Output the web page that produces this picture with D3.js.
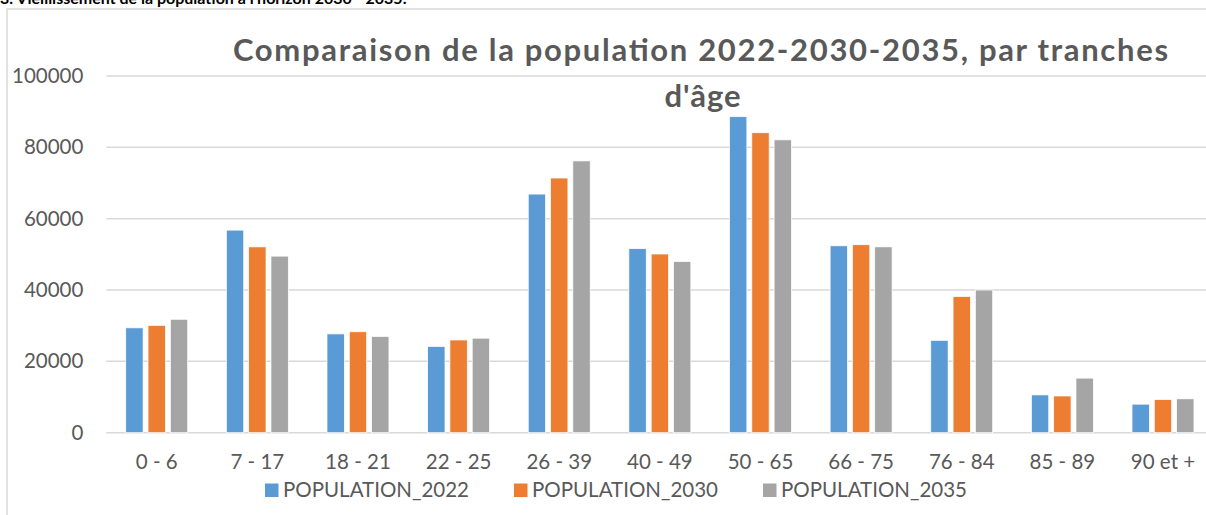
<!DOCTYPE html>
<meta charset="utf-8">
<style>
body { margin: 0; background: #fff; }
svg { display: block; }
text { font-family: Lato, "Open Sans", sans-serif; fill: #595959; }
.tick text { font-size: 20.5px; }
.grid line { stroke: #d9d9d9; stroke-width: 1.5; }
</style>
<svg width="1206" height="515"></svg>
<script src="https://d3js.org/d3.v7.min.js"></script>
<script>

var categories = ["0 - 6", "7 - 17", "18 - 21", "22 - 25", "26 - 39", "40 - 49", "50 - 65", "66 - 75", "76 - 84", "85 - 89", "90 et +"];
var pop2022 = [29400, 56800, 27700, 24200, 66900, 51600, 88600, 52400, 25900, 10600, 8000];
var pop2030 = [30100, 52100, 28300, 26000, 71400, 50100, 84100, 52700, 38200, 10300, 9300];
var pop2035 = [31800, 49500, 27000, 26500, 76200, 48000, 82100, 52100, 40000, 15300, 9500];
var seriesNames = ["POPULATION_2022", "POPULATION_2030", "POPULATION_2035"];
var yTicks = [0, 20000, 40000, 60000, 80000, 100000];

var series = [pop2022, pop2030, pop2035];
var color = d3.scaleOrdinal().domain(seriesNames).range(["#5b9bd5", "#ed7d31", "#a5a5a5"]);

var svg = d3.select("svg");

// bit of the document heading cut off above the chart frame
svg.append("text")
    .attr("x", 0)
    .attr("y", 4)
    .style("font-size", "16px")
    .style("font-weight", "bold")
    .style("fill", "#000")
    .text("3. Vieillissement de la population à l'horizon 2030 - 2035.");

// chart frame (only left and top edges visible)
svg.append("path")
    .attr("d", "M7,515V9H1206")
    .attr("fill", "none")
    .attr("stroke", "#d9d9d9")
    .attr("stroke-width", 1.5);

var x0 = d3.scaleBand()
    .domain(categories)
    .range([106.4, 1213.3])
    .paddingInner(0.384)
    .paddingOuter(0.192);

var x1 = d3.scaleBand()
    .domain(seriesNames)
    .range([0, x0.bandwidth()])
    .paddingInner(0.22);

var y = d3.scaleLinear()
    .domain([0, 100000])
    .range([432.7, 76]);

// gridlines
svg.append("g")
    .attr("class", "grid")
  .selectAll("line")
  .data(yTicks)
  .enter().append("line")
    .attr("x1", 106.4)
    .attr("x2", 1213.3)
    .attr("y1", function(d) { return y(d); })
    .attr("y2", function(d) { return y(d); });

// y axis labels
var yAxis = svg.append("g")
    .attr("transform", "translate(106.4,0)")
    .call(d3.axisLeft(y).tickValues(yTicks).tickSize(0).tickPadding(23).tickFormat(d3.format("d")));
yAxis.select(".domain").remove();

// x axis labels
var xAxis = svg.append("g")
    .attr("transform", "translate(0,432.7)")
    .call(d3.axisBottom(x0).tickSize(0).tickPadding(22));
xAxis.select(".domain").remove();

// bars
var groups = svg.append("g")
  .selectAll("g")
  .data(categories)
  .enter().append("g")
    .attr("transform", function(d) { return "translate(" + x0(d) + ",0)"; });

groups.selectAll("rect")
  .data(function(d, i) {
    return seriesNames.map(function(s, j) { return { key: s, value: series[j][i] }; });
  })
  .enter().append("rect")
    .attr("x", function(d) { return x1(d.key); })
    .attr("y", function(d) { return y(d.value); })
    .attr("width", x1.bandwidth())
    .attr("height", function(d) { return y(0) - y(d.value); })
    .attr("fill", function(d) { return color(d.key); })
    .attr("stroke", "#fff")
    .attr("stroke-width", 0.75);

// title, stretched a little to the width the original font gave
svg.append("text")
    .attr("x", 700.5)
    .attr("y", 61)
    .attr("text-anchor", "middle")
    .attr("textLength", 935)
    .attr("lengthAdjust", "spacing")
    .style("font-size", "31px")
    .style("font-weight", "bold")
    .text("Comparaison de la population 2022-2030-2035, par tranches");

svg.append("text")
    .attr("x", 703)
    .attr("y", 107)
    .attr("text-anchor", "middle")
    .style("font-size", "31px")
    .style("font-weight", "bold")
    .style("letter-spacing", "1px")
    .text("d'âge");

// legend
var legend = svg.append("g")
  .selectAll("g")
  .data(seriesNames)
  .enter().append("g")
    .attr("transform", function(d, i) { return "translate(" + (265 + i * 249) + ",483.5)"; });

legend.append("rect")
    .attr("width", 13.5)
    .attr("height", 13.5)
    .attr("fill", function(d) { return color(d); });

legend.append("text")
    .attr("x", 18)
    .attr("y", 13.5)
    .style("font-size", "20.5px")
    .text(function(d) { return d; });

</script>
